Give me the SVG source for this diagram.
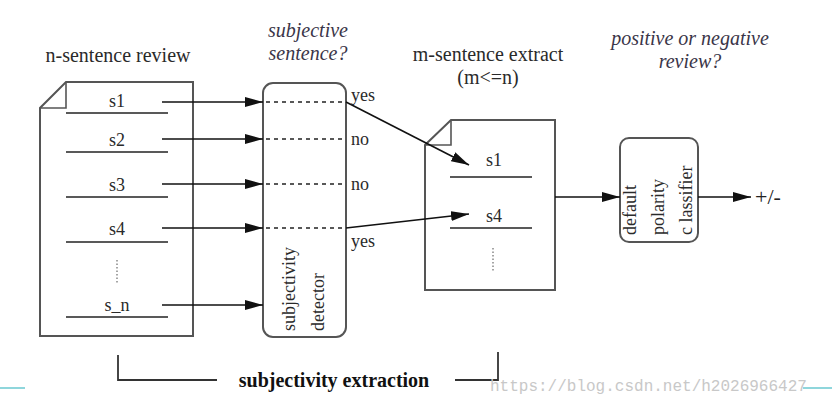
<svg xmlns="http://www.w3.org/2000/svg" width="832" height="404" viewBox="0 0 832 404">
<defs>
<marker id="ah" viewBox="0 0 10 10" refX="10" refY="5" markerWidth="18" markerHeight="10" markerUnits="userSpaceOnUse" orient="auto" preserveAspectRatio="none">
<path d="M0,0 L10,5 L0,10 z" fill="#111"/>
</marker>
<style>
.box{fill:#fff;stroke:#555;stroke-width:2}
.ul{stroke:#222;stroke-width:1.6}
.dots{stroke:#888;stroke-width:1.5;stroke-dasharray:1.5 2}
.arr{stroke:#111;stroke-width:1.6;fill:none;marker-end:url(#ah)}
.dash{stroke:#222;stroke-width:1.4;stroke-dasharray:4 4}
.ln{stroke:#333;stroke-width:1.8;fill:none}
</style>
</defs>
<rect width="832" height="404" fill="#fff"/>

<g id="titles">
<text style="font-family:'Liberation Serif',serif;font-size:20px;fill:#2a2a2a" x="118" y="62" text-anchor="middle">n-sentence review</text>
<text style="font-family:'Liberation Serif',serif;font-size:20px;font-style:italic;fill:#3a3548" x="308" y="37" text-anchor="middle">subjective</text>
<text style="font-family:'Liberation Serif',serif;font-size:20px;font-style:italic;fill:#3a3548" x="308" y="60" text-anchor="middle">sentence?</text>
<text style="font-family:'Liberation Serif',serif;font-size:20px;fill:#2a2a2a" x="488" y="61" text-anchor="middle">m-sentence extract</text>
<text style="font-family:'Liberation Serif',serif;font-size:20px;fill:#2a2a2a" x="488" y="84" text-anchor="middle">(m&lt;=n)</text>
<text style="font-family:'Liberation Serif',serif;font-size:20px;font-style:italic;fill:#3a3548" x="690" y="45" text-anchor="middle">positive or negative</text>
<text style="font-family:'Liberation Serif',serif;font-size:20px;font-style:italic;fill:#3a3548" x="690" y="68" text-anchor="middle">review?</text>
</g>

<g id="review">
<path class="box" d="M66,82 L193,82 L193,336 L40,336 L40,108 Z"/>
<path d="M40,108 L66,108 L66,82" fill="none" stroke="#555" stroke-width="1.6"/>
<text style="font-family:'Liberation Serif',serif;font-size:18px;fill:#2a2a2a" x="117" y="107" text-anchor="middle">s1</text>
<line class="ul" x1="66" y1="113" x2="168" y2="113"/>
<text style="font-family:'Liberation Serif',serif;font-size:18px;fill:#2a2a2a" x="117" y="146" text-anchor="middle">s2</text>
<line class="ul" x1="66" y1="152" x2="168" y2="152"/>
<text style="font-family:'Liberation Serif',serif;font-size:18px;fill:#2a2a2a" x="117" y="191" text-anchor="middle">s3</text>
<line class="ul" x1="66" y1="197" x2="168" y2="197"/>
<text style="font-family:'Liberation Serif',serif;font-size:18px;fill:#2a2a2a" x="117" y="235" text-anchor="middle">s4</text>
<line class="ul" x1="66" y1="242" x2="168" y2="242"/>
<line class="dots" x1="117" y1="260" x2="117" y2="284"/>
<text style="font-family:'Liberation Serif',serif;font-size:18px;fill:#2a2a2a" x="117" y="311" text-anchor="middle">s_n</text>
<line class="ul" x1="66" y1="317" x2="168" y2="317"/>
</g>

<g id="detector">
<rect class="box" x="263" y="83" width="83" height="254" rx="10"/>
<text style="font-family:'Liberation Serif',serif;font-size:18px;fill:#2a2a2a" transform="translate(295,331) rotate(-90)">subjectivity</text>
<text style="font-family:'Liberation Serif',serif;font-size:18px;fill:#2a2a2a" transform="translate(324,331) rotate(-90)">detector</text>
</g>

<g id="extract">
<path class="box" d="M451,120 L555,120 L555,290 L425,290 L425,145 Z"/>
<path d="M425,145 L451,145 L451,120" fill="none" stroke="#555" stroke-width="1.6"/>
<text style="font-family:'Liberation Serif',serif;font-size:18px;fill:#2a2a2a" x="494" y="166" text-anchor="middle">s1</text>
<line class="ul" x1="450" y1="177" x2="532" y2="177"/>
<text style="font-family:'Liberation Serif',serif;font-size:18px;fill:#2a2a2a" x="494" y="222" text-anchor="middle">s4</text>
<line class="ul" x1="450" y1="228" x2="532" y2="228"/>
<line class="dots" x1="493" y1="248" x2="493" y2="271"/>
</g>

<g id="classifier">
<rect class="box" x="620" y="138" width="78" height="104" rx="9"/>
<text style="font-family:'Liberation Serif',serif;font-size:18px;fill:#2a2a2a" transform="translate(636,235) rotate(-90)">default</text>
<text style="font-family:'Liberation Serif',serif;font-size:18px;fill:#2a2a2a" transform="translate(664,235) rotate(-90)">polarity</text>
<text style="font-family:'Liberation Serif',serif;font-size:18px;fill:#2a2a2a" transform="translate(692,235) rotate(-90)">c lassifier</text>
</g>

<g id="output">
<text style="font-family:'Liberation Serif',serif;font-size:22px;fill:#222" x="755" y="204">+/-</text>
</g>

<g id="connectors">
<line class="arr" x1="162" y1="102" x2="263" y2="102"/>
<line class="arr" x1="162" y1="139" x2="263" y2="139"/>
<line class="arr" x1="162" y1="184" x2="263" y2="184"/>
<line class="arr" x1="162" y1="228" x2="263" y2="228"/>
<line class="arr" x1="162" y1="305" x2="263" y2="305"/>
<line class="dash" x1="266" y1="102" x2="346" y2="102"/>
<line class="dash" x1="266" y1="139" x2="346" y2="139"/>
<line class="dash" x1="266" y1="184" x2="346" y2="184"/>
<line class="dash" x1="266" y1="228" x2="346" y2="228"/>
<line class="arr" x1="346" y1="102" x2="469" y2="165"/>
<line class="arr" x1="346" y1="228" x2="469" y2="214"/>
<line class="arr" x1="555" y1="197" x2="620" y2="197"/>
<line class="arr" x1="698" y1="197" x2="751" y2="197"/>
</g>

<g id="labels">
<text style="font-family:'Liberation Serif',serif;font-size:18px;fill:#2a2a2a" x="351" y="101">yes</text>
<text style="font-family:'Liberation Serif',serif;font-size:18px;fill:#2a2a2a" x="351" y="145">no</text>
<text style="font-family:'Liberation Serif',serif;font-size:18px;fill:#2a2a2a" x="351" y="190">no</text>
<text style="font-family:'Liberation Serif',serif;font-size:18px;fill:#2a2a2a" x="351" y="247">yes</text>
</g>

<g id="bracket">
<path class="ln" d="M118,355 L118,380 L217,380"/>
<path class="ln" d="M455,380 L498,380 L498,352"/>
<text style="font-family:'Liberation Serif',serif;font-size:20px;font-weight:bold;fill:#111" x="334" y="387" text-anchor="middle">subjectivity extraction</text>
</g>

<g id="watermark">
<line x1="0" y1="388" x2="25" y2="388" stroke="#8fd6dc" stroke-width="2"/>
<line x1="803" y1="388" x2="832" y2="388" stroke="#8fd6dc" stroke-width="2"/>
<text style="font-family:'Liberation Mono',monospace;font-size:16px;fill:#c8c8c8" x="490" y="391">https://blog.csdn.net/h2026966427</text>
</g>
</svg>
